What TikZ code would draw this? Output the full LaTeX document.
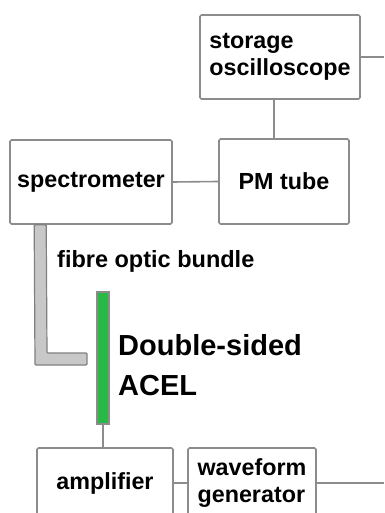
\documentclass[tikz,border=0pt]{standalone}
\usepackage{fontspec}
\setmainfont{Liberation Sans}
\usetikzlibrary{
	positioning		% Allows right=of style positioning
	, calc
}

\definecolor{boxgrey}{RGB}{140,140,140}
\definecolor{fibregrey}{RGB}{200,200,200}
\definecolor{acelgreen}{RGB}{40,185,70}

\begin{document}
\begin{tikzpicture}[
		x=1pt, y=-1pt
		, device/.style={draw=boxgrey, line width=1.6pt, rounded corners=1.5pt, fill=white,
			font=\fontsize{23.3}{27}\selectfont\bfseries, inner sep=0pt}
		, wire/.style={draw=boxgrey, line width=1.6pt}
		, fibre/.style={draw=gray, fill=fibregrey, line width=1.2pt, rounded corners=1pt}
		, acelbar/.style={draw=boxgrey, fill=acelgreen, line width=1.2pt, inner sep=0pt,
			minimum width=12pt, minimum height=132pt}
		, caption/.style={font=\fontsize{23.5}{27}\selectfont\bfseries, inner sep=0pt}
	]
	\useasboundingbox (0,0) rectangle (384,513);
	\coordinate (rightedge) at (384,0);

	% Boxes of the measuring side
	\node [device, minimum width=160pt, minimum height=84pt, align=left] (storage) at (280,57) {storage\\oscilloscope};
	\node [device, minimum width=130pt, minimum height=85pt] (pmtube) at (284,181.5) {PM tube};
	\node [device, minimum width=162pt, minimum height=84pt] (spectro) at (91,182) {spectrometer};

	% Boxes of the driving side (cut off at the bottom)
	\node [device, minimum width=136pt, minimum height=70pt] (amp) at (105,483) {amplifier};
	\node [device, minimum width=128pt, minimum height=70pt, align=left] (wavegen) at (252,483) {waveform\\generator};

	% The lamp and its name
	\node [acelbar] (acel) at (103,358) {};
	\node [caption, font=\fontsize{29}{40}\selectfont\bfseries, align=left, anchor=west] (acelname) at (118,365) {Double-sided\\ACEL};

	% Fibre bundle from the spectrometer
	\path[fibre] ([xshift=25pt]spectro.south west) -- (35,365) -- (87,365) -- (87,353) -- (47,353) -- ([xshift=37pt]spectro.south west) -- cycle;
	\node [caption, anchor=west] (fibrename) at (57,261) {fibre optic bundle};

	% Wires
	\draw[wire] (storage.east) -- (storage.east -| rightedge);
	\draw[wire] ([xshift=-6pt]storage.south) -- ([xshift=-6pt]storage.south |- pmtube.north);
	\draw[wire] (spectro.east) -- (pmtube.west);
	\draw[wire] (acel.south) -- (acel.south |- amp.north);
	\draw[wire] (amp.east) -- (wavegen.west);
	\draw[wire] (wavegen.east) -- (wavegen.east -| rightedge);
\end{tikzpicture}
\end{document}
